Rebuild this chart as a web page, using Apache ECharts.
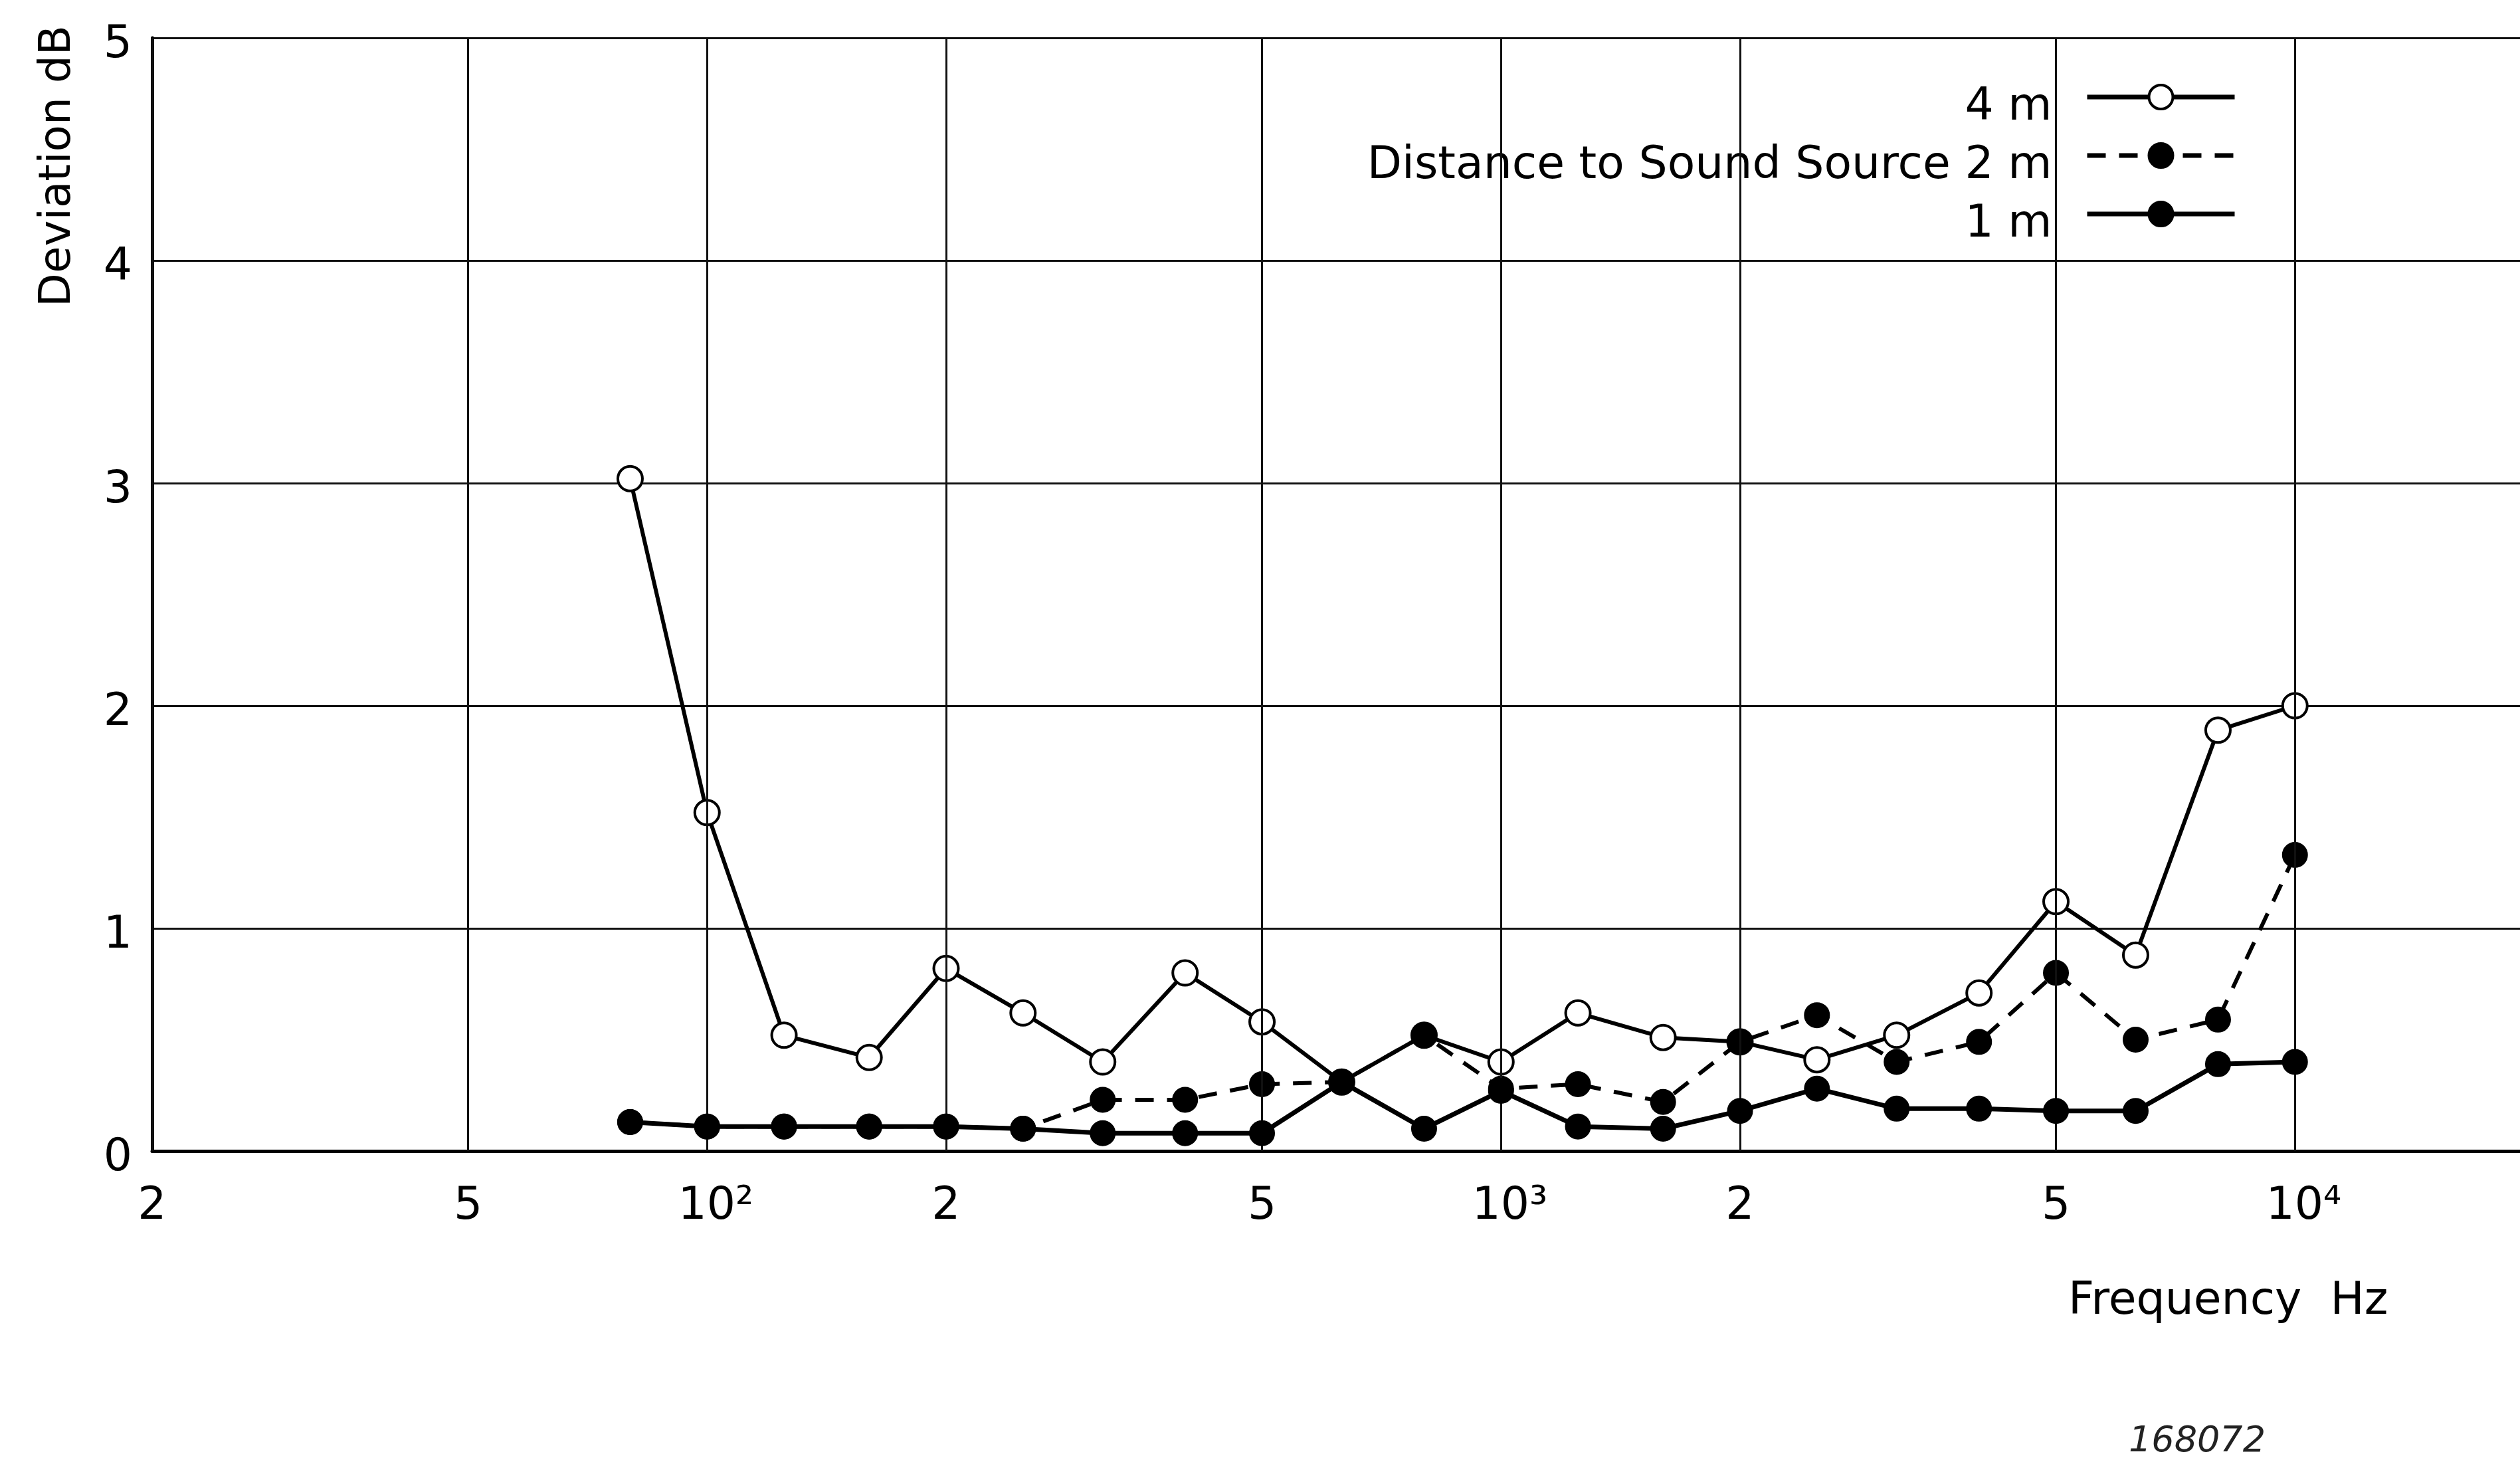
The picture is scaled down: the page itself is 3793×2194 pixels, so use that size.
<!DOCTYPE html>
<html>
<head>
<meta charset="utf-8">
<title>Deviation vs Frequency</title>
<script src="https://cdn.jsdelivr.net/npm/echarts@6/dist/echarts.min.js"></script>
<style>
  html, body { margin: 0; padding: 0; background: #fff; overflow: hidden; }
  /* the frequency axis runs to 20 kHz, a little past the right edge of the page */
  #chart { width: 3814px; height: 2194px; }
</style>
</head>
<body>
<div id="chart"></div>
<script>
// Third-octave measurement frequencies (Hz)
const frequencies = [80, 100, 125, 160, 200, 250, 315, 400, 500, 630, 800, 1000,
  1250, 1600, 2000, 2500, 3150, 4000, 5000, 6300, 8000, 10000];

// Deviation in dB for each distance to the sound source
const deviation4m = [3.02, 1.52, 0.52, 0.42, 0.82, 0.62, 0.40, 0.80, 0.58, 0.31, 0.52, 0.40,
  0.62, 0.51, 0.49, 0.41, 0.52, 0.71, 1.12, 0.88, 1.89, 2.00];
const deviation2m = [0.13, 0.11, 0.11, 0.11, 0.11, 0.10, 0.23, 0.23, 0.30, 0.31, 0.52, 0.28,
  0.30, 0.22, 0.49, 0.61, 0.40, 0.49, 0.80, 0.50, 0.59, 1.33];
const deviation1m = [0.13, 0.11, 0.11, 0.11, 0.11, 0.10, 0.08, 0.08, 0.08, 0.31, 0.10, 0.27,
  0.11, 0.10, 0.18, 0.28, 0.19, 0.19, 0.18, 0.18, 0.39, 0.40];

const seriesNames = ['4 m', '2 m', '1 m'];
const legendTitle = 'Distance to Sound Source';

// Frequency grid lines (Hz) and their labels
const xGridValues = [20, 50, 100, 200, 500, 1000, 2000, 5000, 10000];
const xGridLabels = ['2', '5', '10²', '2', '5', '10³', '2', '5', '10⁴'];

const xAxisTitle = 'Frequency  Hz';
const yAxisTitle = 'Deviation dB';
const drawingNumber = '168072';

const FONT = '"DejaVu Sans", sans-serif';
const toPairs = vals => frequencies.map((f, i) => [f, vals[i]]);

const chart = echarts.init(document.getElementById('chart'), null, { renderer: 'canvas' });

const option = {
  animation: false,
  backgroundColor: '#fff',
  textStyle: { fontFamily: FONT, color: '#000' },
  grid: { left: 229, top: 57, right: 0, bottom: 462, containLabel: false },
  xAxis: {
    type: 'log', logBase: 10, min: 20, max: 20000,
    axisLine: { show: true, onZero: false, lineStyle: { color: '#000', width: 5 } },
    axisTick: { show: false },
    axisLabel: { show: false },
    splitLine: { show: false },
    minorSplitLine: { show: false }
  },
  yAxis: {
    type: 'value', min: 0, max: 5, interval: 1,
    axisLine: { show: true, lineStyle: { color: '#000', width: 5 } },
    axisTick: { show: false },
    axisLabel: {
      fontSize: 68, color: '#000', margin: 30, fontFamily: FONT,
      formatter: v => '{v|' + v + '}',
      rich: { v: { fontSize: 68, color: '#000', fontFamily: FONT, padding: [22, 0, 0, 0] } }
    },
    splitLine: { show: true, lineStyle: { color: '#111', width: 3 } }
  },
  legend: {
    data: seriesNames,
    orient: 'vertical',
    align: 'right',
    right: 447,
    top: 96,
    padding: 0,
    itemWidth: 222,
    itemHeight: 45,
    itemGap: -12,
    selectedMode: false,
    lineStyle: { width: 7 },
    itemStyle: { borderWidth: 4 },
    formatter: name => '{t|' + (name === '2 m' ? legendTitle + ' ' + name : name) + '}',
    textStyle: {
      fontSize: 68, color: '#000', fontFamily: FONT,
      rich: { t: { fontSize: 68, color: '#000', fontFamily: FONT, lineHeight: 40,
                   padding: [32, 48, 0, 0] } }
    }
  },
  graphic: [
    {
      type: 'text', x: 88, y: 250, rotation: Math.PI / 2,
      style: { text: yAxisTitle, fontSize: 66, fontFamily: FONT, fill: '#000',
               align: 'center', verticalAlign: 'middle' }
    },
    {
      type: 'text', x: 3113, y: 1959,
      style: { text: xAxisTitle, fontSize: 68, fontFamily: FONT, fill: '#000',
               align: 'left', verticalAlign: 'middle' }
    },
    {
      type: 'text', x: 3307, y: 2170,
      style: { text: drawingNumber, fontSize: 54, fontFamily: FONT, fontStyle: 'italic',
               fontWeight: 200, fill: '#222', align: 'center', verticalAlign: 'middle' }
    }
  ],
  series: [
    // frequency grid lines with their labels
    {
      type: 'line', data: [], silent: true, z: 1,
      markLine: {
        silent: true, symbol: 'none', animation: false,
        lineStyle: { color: '#111', width: 3, type: 'solid' },
        label: { show: true, position: 'start', distance: 50, fontSize: 68,
                 color: '#000', fontFamily: FONT },
        emphasis: { disabled: true },
        data: xGridValues.map((v, i) => ({
          xAxis: v,
          label: {
            formatter: xGridLabels[i],
            padding: xGridLabels[i].length > 1 ? [0, 0, 0, 26] : 0
          }
        }))
      }
    },
    {
      name: seriesNames[0], type: 'line', data: toPairs(deviation4m), z: 3,
      symbol: 'circle', symbolSize: 37, showAllSymbol: true,
      lineStyle: { color: '#000', width: 6 },
      itemStyle: { color: '#fff', borderColor: '#000', borderWidth: 4 },
      emphasis: { disabled: true }
    },
    {
      name: seriesNames[1], type: 'line', data: toPairs(deviation2m), z: 4,
      symbol: 'circle', symbolSize: 37, showAllSymbol: true,
      lineStyle: { color: '#000', width: 6, type: [28, 20] },
      itemStyle: { color: '#000', borderColor: '#000', borderWidth: 2 },
      emphasis: { disabled: true }
    },
    {
      name: seriesNames[2], type: 'line', data: toPairs(deviation1m), z: 5,
      symbol: 'circle', symbolSize: 37, showAllSymbol: true,
      lineStyle: { color: '#000', width: 7 },
      itemStyle: { color: '#000', borderColor: '#000', borderWidth: 2 },
      emphasis: { disabled: true }
    }
  ]
};

chart.setOption(option);
</script>
</body>
</html>
